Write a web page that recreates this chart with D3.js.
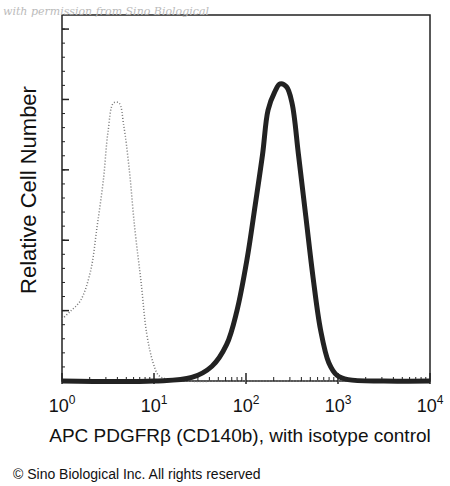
<!DOCTYPE html>
<html>
<head>
<meta charset="utf-8">
<script src="https://cdn.jsdelivr.net/npm/d3@7"></script>
<style>
  body { margin: 0; background: #fff; }
  text { font-family: "Liberation Sans", Arial, sans-serif; }
</style>
</head>
<body>
<svg id="chart" width="450" height="486"></svg>
<script>
// log10 intensity positions and counts
const isoLog = [0, 0.09, 0.2, 0.31, 0.38, 0.45, 0.5, 0.56, 0.62, 0.67, 0.73, 0.79, 0.86, 0.92, 0.99, 1.05, 1.13, 1.3, 2, 3, 4];
const isoCount = [88, 99, 114, 156, 218, 286, 354, 395, 395, 364, 302, 218, 140, 68, 26, 8, 3, 0, 0, 0, 0];
const sampleLog = [0, 1, 1.41, 1.63, 1.79, 1.9, 2.01, 2.1, 2.18, 2.24, 2.31, 2.37, 2.44, 2.5, 2.57, 2.65, 2.73, 2.81, 2.9, 2.99, 3.11, 3.5, 4];
const sampleCount = [0, 0, 5, 21, 52, 99, 172, 250, 322, 385, 410, 422, 418, 395, 322, 234, 146, 73, 26, 8, 2, 0, 0];
const xTicks = [1, 10, 100, 1000, 10000];
const xTickExp = ['0', '1', '2', '3', '4'];
const yMajor = [0, 100, 200, 300, 400, 500];

const svg = d3.select('#chart');
const mLeft = 62, mRight = 430, mTop = 15, mBottom = 381;

const x = d3.scaleLog().domain([1, 10000]).range([mLeft, mRight]);
const y = d3.scaleLinear().domain([0, 520]).range([mBottom, mTop]);

// Рамка
svg.append('rect')
    .attr('x', mLeft).attr('y', mTop)
    .attr('width', mRight - mLeft).attr('height', mBottom - mTop)
    .attr('fill', 'none').attr('stroke', '#222').attr('stroke-width', 1.5);

// Деления оси X
const xMinor = [];
for (let e = 0; e < 4; e++) for (let m = 2; m < 10; m++) xMinor.push(m * Math.pow(10, e));
svg.selectAll('.xminor').data(xMinor).enter().append('line')
    .attr('x1', d => x(d)).attr('x2', d => x(d))
    .attr('y1', mBottom).attr('y2', mBottom - 4)
    .attr('stroke', '#222');
svg.selectAll('.xmajor').data(xTicks).enter().append('line')
    .attr('x1', d => x(d)).attr('x2', d => x(d))
    .attr('y1', mBottom + 3).attr('y2', mBottom - 8)
    .attr('stroke', '#222').attr('stroke-width', 1.5);

const xl = svg.selectAll('.xlab').data(xTicks).enter().append('text')
    .attr('x', d => x(d)).attr('y', 412)
    .attr('text-anchor', 'middle').attr('font-size', 18).attr('fill', '#111');
xl.append('tspan').text('10');
xl.append('tspan').attr('dy', -8).attr('font-size', 12).text((d, i) => xTickExp[i]);

// Деления оси Y
const yMinor = d3.range(0, 520, 20);
svg.selectAll('.yminor').data(yMinor).enter().append('line')
    .attr('x1', mLeft).attr('x2', mLeft + 3)
    .attr('y1', d => y(d)).attr('y2', d => y(d))
    .attr('stroke', '#222');
svg.selectAll('.ymajor').data(yMajor).enter().append('line')
    .attr('x1', mLeft).attr('x2', mLeft + 7)
    .attr('y1', d => y(d)).attr('y2', d => y(d))
    .attr('stroke', '#222').attr('stroke-width', 1.5);

// Кривые
const line = d3.line().x(d => x(Math.pow(10, d[0]))).y(d => y(d[1])).curve(d3.curveCatmullRom);

svg.append('path')
    .datum(isoLog.map((v, i) => [v, isoCount[i]]))
    .attr('d', line)
    .attr('fill', 'none').attr('stroke', '#777').attr('stroke-width', 1.5)
    .attr('stroke-dasharray', '1,2');

svg.append('path')
    .datum(sampleLog.map((v, i) => [v, sampleCount[i]]))
    .attr('d', line)
    .attr('fill', 'none').attr('stroke', '#222').attr('stroke-width', 5);

// Подписи
svg.append('text')
    .attr('transform', 'translate(36,190) rotate(-90)')
    .attr('text-anchor', 'middle').attr('font-size', 22).attr('fill', '#111')
    .text('Relative Cell Number');

svg.append('text')
    .attr('x', 240).attr('y', 442)
    .attr('text-anchor', 'middle').attr('font-size', 19).attr('fill', '#111')
    .text('APC PDGFRβ (CD140b), with isotype control');

svg.append('text')
    .attr('x', 13).attr('y', 479)
    .attr('font-size', 14).attr('fill', '#111')
    .text('© Sino Biological Inc. All rights reserved');

svg.append('text')
    .attr('x', 3).attr('y', 15)
    .attr('font-size', 11).attr('font-style', 'italic').attr('fill', '#bbb')
    .style('font-family', '"DejaVu Serif", serif')
    .text('with permission from Sino Biological');
</script>
</body>
</html>
